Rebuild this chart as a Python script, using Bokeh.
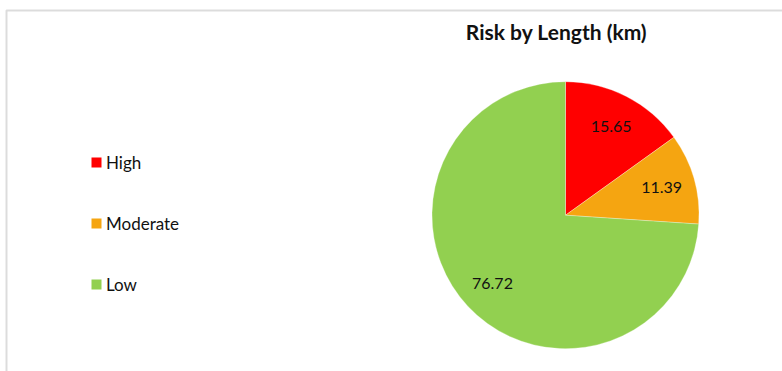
import numpy as np
from bokeh.plotting import figure
from bokeh.models import Range1d, ColumnDataSource, BoxAnnotation
from bokeh.core.properties import value
from bokeh.embed import file_html
from bokeh.resources import INLINE

# ---- data ----
categories = ["High", "Moderate", "Low"]
lengths = [15.65, 11.39, 76.72]
colors = ["#FF0000", "#F5A511", "#92D050"]
label_texts = ["15.65", "11.39", "76.72"]
title_text = "Risk by Length (km)"

# ---- layout constants (screen px, y measured from top) ----
W, H = 782, 371
CX, CY, R = 565.0, 214.7, 133.5
LABEL_R = 100.0
LEG_X, LEG_Y0, LEG_DY = 96.0, 162.0, 61.0
FONT = "Lato"

p = figure(width=W, height=H, output_backend="svg", toolbar_location=None,
           x_range=Range1d(0, W), y_range=Range1d(0, H), min_border=0)
p.axis.visible = False
p.grid.visible = False
p.outline_line_color = None
p.background_fill_color = "white"
p.border_fill_color = "white"

def sy(y):
    return H - y

vals = np.array(lengths, dtype=float)
frac = vals / vals.sum()
cum = np.cumsum(frac)
prev = np.concatenate([[0.0], cum[:-1]])
start = np.pi / 2 - prev * 2 * np.pi
end = np.pi / 2 - cum * 2 * np.pi
mid = (start + end) / 2

src = ColumnDataSource(dict(start=start, end=end, color=colors, cat=categories,
                            lx=CX + LABEL_R * np.cos(mid),
                            ly=sy(CY) + LABEL_R * np.sin(mid),
                            lab=label_texts))
p.wedge(x=CX, y=sy(CY), radius=R, start_angle="start", end_angle="end",
        direction="clock", fill_color="color", line_color="white", line_width=0.3,
        source=src)
p.text(x="lx", y="ly", text="lab", source=src, text_align="center",
       text_baseline="middle", text_font=value(FONT), text_font_size="16px",
       text_color="#111111")

# title
p.text(x=[556], y=[sy(31)], text=[title_text], text_align="center",
       text_baseline="middle", text_font=value(FONT), text_font_size="21px",
       text_font_style="bold", text_color="#111111")

# legend
leg_y = [sy(LEG_Y0 + i * LEG_DY) for i in range(len(categories))]
p.scatter(x=[LEG_X] * len(categories), y=leg_y, marker="square", size=10,
          fill_color=colors, line_color=None)
p.text(x=[LEG_X + 9.5] * len(categories), y=leg_y, text=categories,
       text_align="left", text_baseline="middle", text_font=value(FONT),
       text_font_size="17px", text_color="#111111")

# chart border
p.add_layout(BoxAnnotation(left=6, right=W + 20, top=sy(10), bottom=-20,
                           fill_alpha=0, line_color="#8c8c8c", line_width=2))

open("out.html", "w").write(file_html(p, INLINE))
